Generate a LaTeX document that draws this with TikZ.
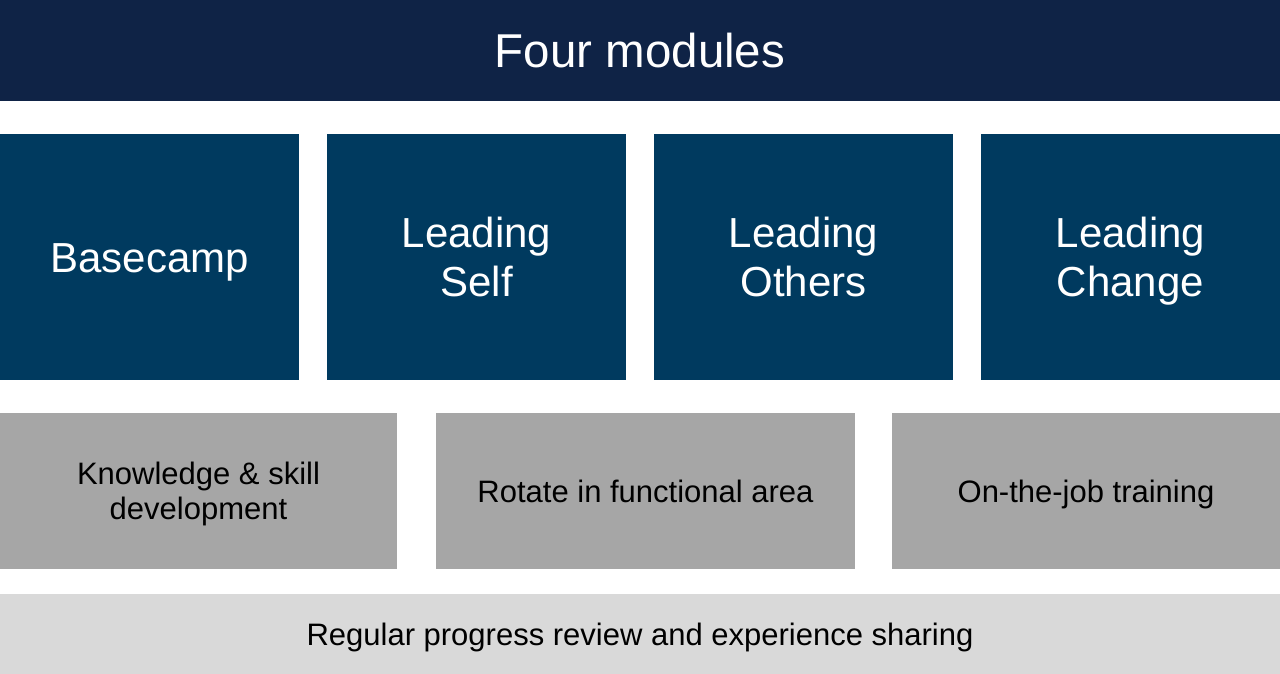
\documentclass[tikz,border=0pt]{standalone}
\usepackage{fontspec}
\setmainfont{Liberation Sans}
\usetikzlibrary{positioning}
\definecolor{navy}{HTML}{0F2346}
\definecolor{modblue}{HTML}{003A5F}
\definecolor{midgray}{HTML}{A6A6A6}
\definecolor{lightgray}{HTML}{D9D9D9}

\begin{document}
\begin{tikzpicture}[x=1pt,y=-1pt,
  box/.style={inner sep=0pt,outer sep=0pt,align=center,text depth=0pt},
  module/.style={box,fill=modblue,text=white,minimum width=299pt,minimum height=246pt,
    font=\fontsize{42}{49}\selectfont},
  step box/.style={box,fill=midgray,text=black,minimum height=156pt,
    font=\fontsize{31}{35}\selectfont}]
\useasboundingbox (0,0) rectangle (1280,674);
\node[box,fill=navy,text=white,minimum width=1280pt,minimum height=101pt,text height=34pt,
  font=\fontsize{47.5}{52}\selectfont] (title) at (640,51) {Four modules};

\foreach \i/\x/\h/\t in {1/149.5/30/{Basecamp},2/476.5/79/{Leading\\Self},
  3/803.5/79/{Leading\\Others},4/1130.5/79/{Leading\\Change}} {
  \node[module,text height=\h pt] (m\i) at (\x,257) {\t};
  }

\node[step box,minimum width=397pt,text height=57pt] (s1) at (198.5,491) {Knowledge \& skill\\development};
\node[step box,minimum width=419pt,text height=22pt] (s2) at (645.5,491) {Rotate in functional area};
\node[step box,minimum width=388pt,text height=22pt] (s3) at (1086,491) {On-the-job training};

\node[box,fill=lightgray,minimum width=1280pt,minimum height=80pt,text height=22pt,
  font=\fontsize{31}{35}\selectfont] (review) at (640,634) {Regular progress review and experience sharing};
\end{tikzpicture}
\end{document}
